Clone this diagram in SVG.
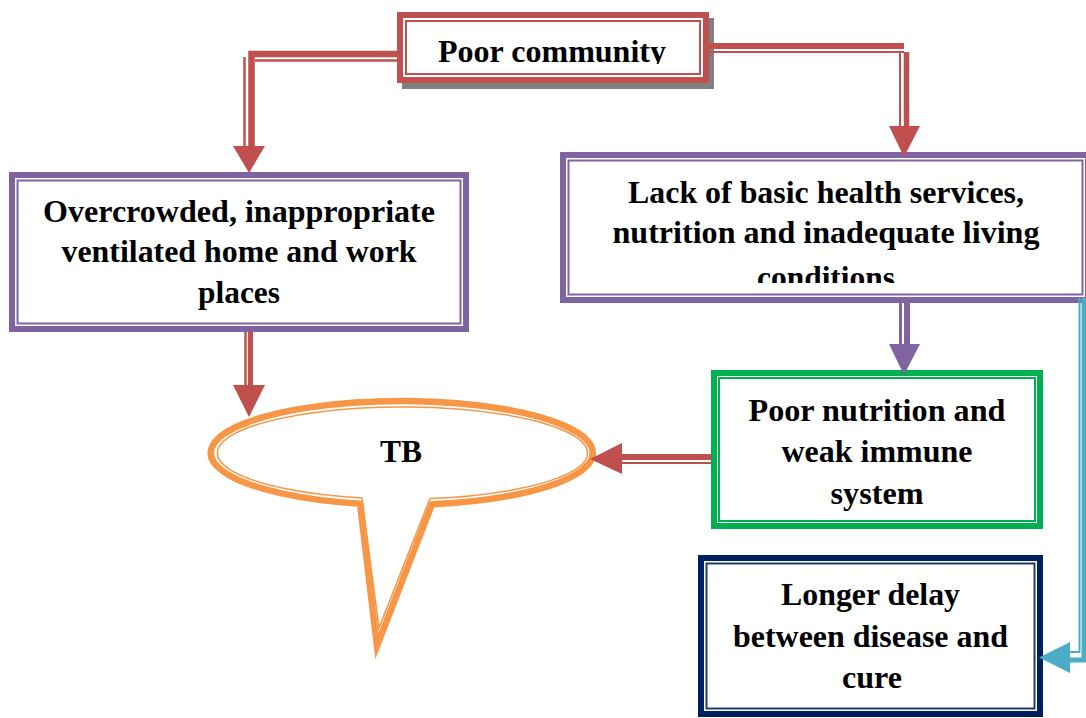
<svg xmlns="http://www.w3.org/2000/svg" width="1086" height="718" viewBox="0 0 1086 718">
<style>
.t{font-family:"Liberation Serif","Times New Roman",serif;font-weight:bold;font-size:32px;fill:#000;text-anchor:middle}
.b{fill:#fff;stroke-width:6}
.i{fill:none;stroke-width:2}
.red{stroke:#C0504D}
.pur{stroke:#8064A2}
.grn{stroke:#00B050}
.nav{stroke:#002060}
.org{stroke:#F79646}
.blu{stroke:#4BACC6}
.c{fill:none;stroke-linecap:butt;stroke-linejoin:miter}
</style>
<defs>
<clipPath id="clipPoor"><rect x="400" y="15" width="306" height="49"/></clipPath>
<clipPath id="clipLack"><rect x="560" y="152" width="526" height="131"/></clipPath>
</defs>
<rect width="1086" height="718" fill="#fff"/>

<g id="node-poor-community">
<rect x="402" y="18" width="312" height="71" fill="#808080"/>
<rect x="400" y="15" width="306" height="65" class="b red"/>
<rect x="406" y="21" width="294" height="53" class="i red"/>
<text class="t" x="552" y="62" textLength="228" lengthAdjust="spacingAndGlyphs" clip-path="url(#clipPoor)">Poor community</text>
</g>

<g id="node-overcrowded">
<rect x="12" y="175" width="454" height="154" class="b pur"/>
<rect x="17.5" y="180.5" width="443" height="143" class="i pur"/>
<text class="t" x="239" y="222" textLength="392" lengthAdjust="spacingAndGlyphs">Overcrowded, inappropriate</text>
<text class="t" x="239" y="262" textLength="355" lengthAdjust="spacingAndGlyphs">ventilated home and work</text>
<text class="t" x="239" y="303" textLength="82" lengthAdjust="spacingAndGlyphs">places</text>
</g>

<g id="node-lack-services">
<rect x="563" y="155" width="525" height="145" class="b pur"/>
<rect x="568.5" y="160.5" width="514" height="134" class="i pur"/>
<g clip-path="url(#clipLack)">
<text class="t" x="826" y="203" textLength="396" lengthAdjust="spacingAndGlyphs">Lack of basic health services,</text>
<text class="t" x="826" y="243" textLength="427" lengthAdjust="spacingAndGlyphs">nutrition and inadequate living</text>
<text class="t" x="826" y="288" textLength="138" lengthAdjust="spacingAndGlyphs">conditions</text>
</g>
</g>

<g id="node-poor-nutrition">
<rect x="714" y="373" width="326" height="153" class="b grn"/>
<rect x="719" y="378" width="316" height="143" class="i grn"/>
<text class="t" x="877" y="421" textLength="257" lengthAdjust="spacingAndGlyphs">Poor nutrition and</text>
<text class="t" x="877" y="462" textLength="191" lengthAdjust="spacingAndGlyphs">weak immune</text>
<text class="t" x="877" y="504" textLength="93" lengthAdjust="spacingAndGlyphs">system</text>
</g>

<g id="node-longer-delay">
<rect x="701" y="558" width="339" height="156" class="b nav"/>
<rect x="706.5" y="563.5" width="328" height="145" class="i" stroke="#1F3B73"/>
<text class="t" x="870.5" y="605" textLength="179" lengthAdjust="spacingAndGlyphs">Longer delay</text>
<text class="t" x="870.5" y="647" textLength="275" lengthAdjust="spacingAndGlyphs">between disease and</text>
<text class="t" x="872" y="688" textLength="60" lengthAdjust="spacingAndGlyphs">cure</text>
</g>

<g id="node-tb">
<path d="M360,503.7 L377,646 L432,504.3 A191,52 0 1 0 360,503.7 Z" fill="#fff" class="org" stroke-width="6.5" stroke-linejoin="miter" stroke-miterlimit="10"/>
<path d="M362,497.9 L379,628 L430,498.5 A185,46 0 1 0 362,497.9 Z" fill="none" class="org" stroke-width="1.5" stroke-linejoin="miter" stroke-miterlimit="10"/>
<text class="t" x="401" y="462" textLength="42" lengthAdjust="spacingAndGlyphs">TB</text>
</g>

<g id="connectors">
<!-- Poor community -> Overcrowded -->
<path class="c red" stroke-width="6.5" d="M397,54 H251.5 V147"/>
<path class="c red" stroke-width="2.5" d="M397,60.5 H255"/>
<path class="c red" stroke-width="2.5" d="M244.5,57 V147"/>
<polygon points="233,146 265,146 249,173" fill="#C0504D"/>
<!-- Poor community -> Lack of services -->
<path class="c red" stroke-width="6" d="M709,46 H904"/>
<path class="c red" stroke-width="5.5" d="M906.5,52 V127"/>
<path class="c red" stroke-width="2" d="M709,52 H904"/>
<path class="c red" stroke-width="2" d="M900,52 V127"/>
<polygon points="889,126 920,126 904,157" fill="#C0504D"/>
<!-- Lack of services -> Poor nutrition -->
<path class="c pur" stroke-width="3" d="M900.5,303 V345"/>
<path class="c pur" stroke-width="6" d="M907,303 V345"/>
<polygon points="889,344 920,344 904,375" fill="#8064A2"/>
<!-- Overcrowded -> TB -->
<path class="c red" stroke-width="2.5" d="M245.5,332 V386"/>
<path class="c red" stroke-width="5" d="M250.5,332 V386"/>
<polygon points="233,385 265,385 249,417" fill="#C0504D"/>
<!-- Poor nutrition -> TB -->
<path class="c red" stroke-width="6" d="M711,457 H621"/>
<path class="c red" stroke-width="2" d="M711,463 H621"/>
<polygon points="622,443 622,474 590,459" fill="#C0504D"/>
<!-- Lack of services -> Longer delay -->
<path class="c blu" stroke-width="2" d="M1079.5,298 V652 H1069"/>
<path class="c blu" stroke-width="5" d="M1084,298 V660 H1069"/>
<polygon points="1070,642 1070,673 1039,657.5" fill="#4BACC6"/>
</g>
</svg>
